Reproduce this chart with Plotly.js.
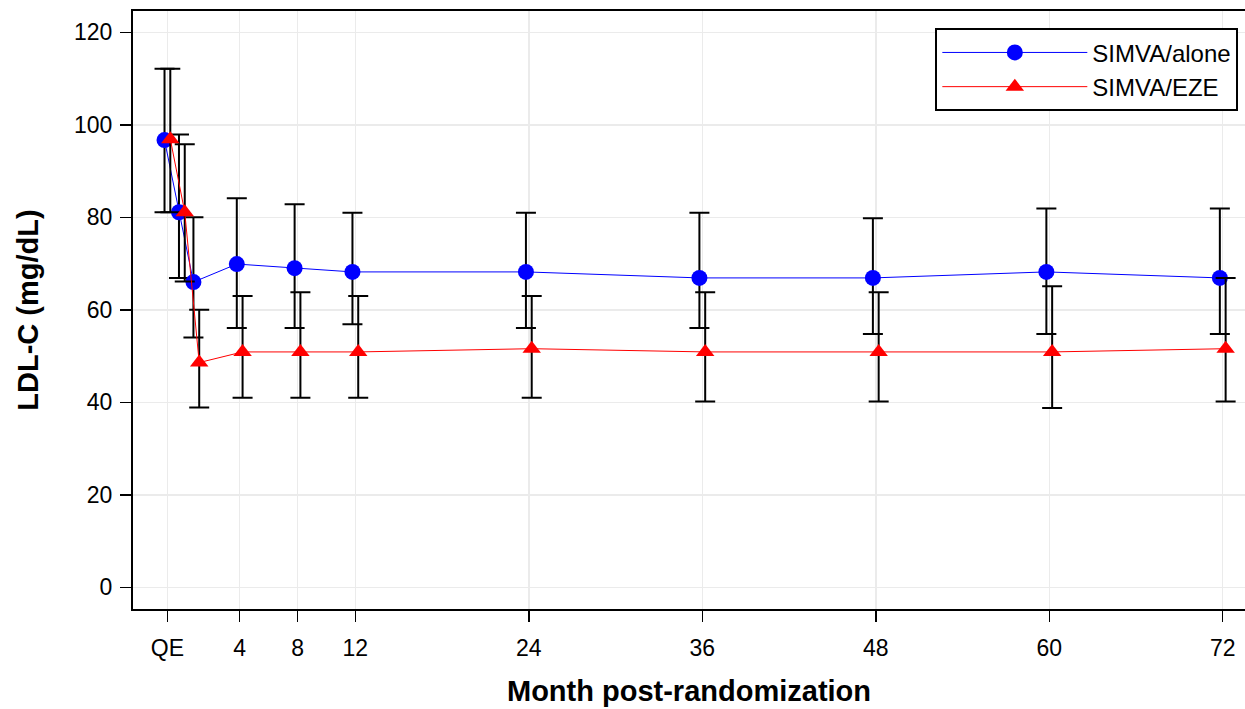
<!DOCTYPE html>
<html>
<head>
<meta charset="utf-8">
<script src="https://cdn.plot.ly/plotly-3.0.1.min.js"></script>
<style>
html, body { margin: 0; padding: 0; background: #ffffff; }
#chart { width: 1245px; height: 709px; }
</style>
</head>
<body>
<div id="chart"></div>
<script>
// Visit time points (months post-randomization; QE = -1)
const months = [-1, 0, 1, 4, 8, 12, 24, 36, 48, 60, 72];
const tickValues = [-1, 4, 8, 12, 24, 36, 48, 60, 72];
const tickLabels = ['QE', '4', '8', '12', '24', '36', '48', '60', '72'];

// SIMVA/alone: LDL-C (mg/dL) value and error-bar limits
const aloneMean  = [96.7, 81.1, 66.0, 69.9, 69.0, 68.2, 68.2, 66.9, 66.9, 68.2, 66.9];
const aloneUpper = [112.1, 97.9, 80.0, 84.1, 82.8, 81.0, 81.0, 81.0, 79.8, 81.9, 81.9];
const aloneLower = [81.1, 66.9, 54.0, 56.1, 56.1, 56.9, 56.1, 56.1, 54.8, 54.8, 54.8];

// SIMVA/EZE
const ezeMean  = [96.9, 81.1, 48.6, 50.9, 50.9, 50.9, 51.6, 50.9, 50.9, 50.9, 51.6];
const ezeUpper = [112.1, 95.8, 60.0, 63.0, 63.8, 63.0, 63.0, 63.8, 63.8, 65.1, 66.9];
const ezeLower = [81.1, 66.1, 38.9, 41.0, 41.0, 41.0, 41.0, 40.2, 40.2, 38.8, 40.2];

const dodge = 0.2;
const FONT = 'Liberation Sans, Arial, sans-serif';

function errBars(mean, upper, lower) {
  return {
    type: 'data', symmetric: false, visible: true,
    array: upper.map((u, i) => u - mean[i]),
    arrayminus: lower.map((l, i) => mean[i] - l),
    color: '#000000', thickness: 2, width: 10
  };
}

const traces = [
  {
    type: 'scatter', mode: 'lines+markers', name: 'SIMVA/alone',
    x: months.map(m => m - dodge), y: aloneMean,
    line: { color: '#0000ff', width: 1 },
    marker: { symbol: 'circle', size: 16, color: '#0000ff' },
    error_y: errBars(aloneMean, aloneUpper, aloneLower)
  },
  {
    type: 'scatter', mode: 'lines+markers', name: 'SIMVA/EZE',
    x: months.map(m => m + dodge), y: ezeMean,
    line: { color: '#ff0000', width: 1 },
    marker: { symbol: 'triangle-up', size: 16, color: '#ff0000' },
    error_y: errBars(ezeMean, ezeUpper, ezeLower)
  }
];

const layout = {
  width: 1245, height: 709,
  margin: { l: 133, r: 0, t: 11, b: 100, pad: 0 },
  paper_bgcolor: '#ffffff', plot_bgcolor: '#ffffff',
  font: { family: FONT, color: '#000000', size: 23 },
  showlegend: true,
  legend: {
    x: 0.994, xanchor: 'right', y: 0.971, yanchor: 'top',
    bordercolor: '#000000', borderwidth: 2, bgcolor: '#ffffff',
    font: { family: FONT, size: 24, color: '#000000' },
    itemwidth: 145
  },
  xaxis: {
    range: [-3.38, 73.54],
    tickmode: 'array', tickvals: tickValues, ticktext: tickLabels,
    ticks: 'outside', ticklen: 11, tickwidth: 1.5, tickcolor: '#000000',
    ticklabelstandoff: 6,
    tickfont: { family: FONT, size: 23, color: '#000000' },
    showline: true, linecolor: '#000000', linewidth: 2, mirror: true,
    showgrid: true, gridcolor: '#ebebeb', gridwidth: 1.5,
    zeroline: false,
    title: { text: 'Month post-randomization', font: { family: FONT, size: 29, weight: 700, color: '#000000' }, standoff: 21 }
  },
  yaxis: {
    range: [-4.67, 124.6],
    tickmode: 'array', tickvals: [0, 20, 40, 60, 80, 100, 120],
    ticks: 'outside', ticklen: 11, tickwidth: 1.5, tickcolor: '#000000',
    ticklabelstandoff: 3,
    tickfont: { family: FONT, size: 23, color: '#000000' },
    showline: true, linecolor: '#000000', linewidth: 2, mirror: false,
    showgrid: true, gridcolor: '#ebebeb', gridwidth: 1.5,
    zeroline: false,
    title: { text: 'LDL-C (mg/dL)', font: { family: FONT, size: 29, weight: 700, color: '#000000' }, standoff: 27 }
  }
};

Plotly.newPlot('chart', traces, layout, { displayModeBar: false, staticPlot: true });
</script>
</body>
</html>
